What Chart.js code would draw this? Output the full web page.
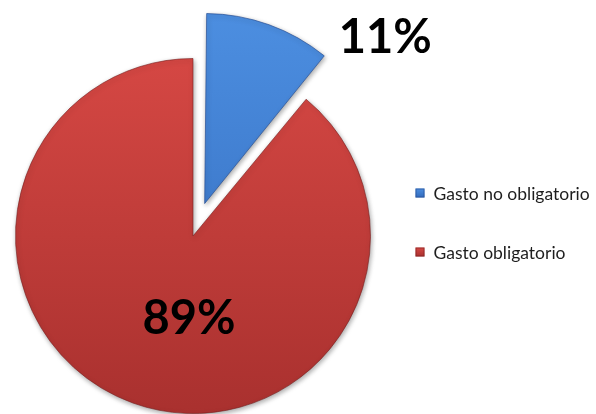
<!DOCTYPE html>
<html>
<head>
<meta charset="utf-8">
<script src="https://cdn.jsdelivr.net/npm/chart.js@4"></script>
<style>
  html, body { margin: 0; padding: 0; width: 596px; height: 414px; overflow: hidden; background: #fff; }
  #wrap { position: absolute; left: -80px; top: -40px; width: 676px; height: 560px; }
</style>
</head>
<body>
<div id="wrap"><canvas id="gastoChart"></canvas></div>
<script>
// Spending split
const categories = ['Gasto no obligatorio', 'Gasto obligatorio'];
const shares = [11, 89];
const sliceOffsets = [138, 0];

// top / bottom shades of each slice
const shadeTop = ['rgb(76,142,224)', 'rgb(214,72,68)'];
const shadeBottom = ['rgb(50,106,188)', 'rgb(168,48,46)'];
const edgeColors = ['rgba(40,80,150,0.7)', 'rgba(120,30,30,0.6)'];

// where each percentage sits: angle clockwise from 12 o'clock, distance in radii
const labelAngles = [48.8, 182.7];
const labelDistances = [1.32, 0.47];

function sliceGradient(context) {
    const chart = context.chart;
    const area = chart.chartArea;
    const i = context.dataIndex;
    if (!area || i === undefined) return shadeTop[i || 0];
    const g = chart.ctx.createLinearGradient(0, area.top + 60, 0, area.bottom - 60);
    g.addColorStop(0, shadeTop[i]);
    g.addColorStop(1, shadeBottom[i]);
    return g;
}

// how far ArcElement.draw pushes a slice out along its middle angle
function arcShift(p, offset) {
    const base = offset / 4;
    const fix = 1 - Math.sin(Math.min(Math.PI, p.endAngle - p.startAngle));
    return base * (1 + fix);
}

// soft drop shadow under the pie
const pieShadow = {
    id: 'pieShadow',
    beforeDatasetsDraw(chart) {
        const ctx = chart.ctx;
        ctx.save();
        ctx.shadowColor = 'rgba(0,0,0,0.35)';
        ctx.shadowBlur = 5;
        ctx.shadowOffsetX = 1;
        ctx.shadowOffsetY = 2;
    },
    afterDatasetsDraw(chart) {
        chart.ctx.restore();
    }
};

// big percentage labels
const percentLabels = {
    id: 'percentLabels',
    afterDraw(chart) {
        const ctx = chart.ctx;
        const meta = chart.getDatasetMeta(0);
        ctx.save();
        ctx.font = 'bold 47px Lato';
        ctx.fillStyle = '#000';
        ctx.textAlign = 'center';
        ctx.textBaseline = 'middle';
        meta.data.forEach((arc, i) => {
            const p = arc.getProps(['x', 'y', 'startAngle', 'endAngle', 'outerRadius']);
            const mid = (p.startAngle + p.endAngle) / 2;
            const off = arcShift(p, sliceOffsets[i]);
            const cx = p.x + Math.cos(mid) * off;
            const cy = p.y + Math.sin(mid) * off;
            const a = (labelAngles[i] - 90) * Math.PI / 180;
            const d = labelDistances[i] * p.outerRadius;
            ctx.fillText(shares[i] + '%', cx + Math.cos(a) * d, cy + Math.sin(a) * d);
        });
        ctx.restore();
    }
};

// legend on the right, beside the pie
const sideLegend = {
    id: 'sideLegend',
    afterDraw(chart) {
        const ctx = chart.ctx;
        const arc = chart.getDatasetMeta(0).data[0];
        const x = arc.x + arc.outerRadius + 45;
        const rows = [arc.y - 43, arc.y + 16];
        ctx.save();
        ctx.font = '17.5px Lato';
        ctx.textBaseline = 'middle';
        categories.forEach((name, i) => {
            const y = rows[i];
            const g = ctx.createLinearGradient(0, y - 4.5, 0, y + 4.5);
            g.addColorStop(0, shadeTop[i]);
            g.addColorStop(1, shadeBottom[i]);
            ctx.fillStyle = g;
            ctx.fillRect(x, y - 4.5, 9, 9);
            ctx.strokeStyle = edgeColors[i];
            ctx.lineWidth = 1;
            ctx.strokeRect(x + 0.5, y - 4, 8, 8);
            ctx.fillStyle = '#1e1e1e';
            ctx.fillText(name, x + 18, y + 1);
        });
        ctx.restore();
    }
};

const ctx = document.getElementById('gastoChart').getContext('2d');
new Chart(ctx, {
    type: 'pie',
    data: {
        labels: categories,
        datasets: [{
            data: shares,
            backgroundColor: sliceGradient,
            borderColor: edgeColors,
            borderWidth: 1,
            offset: sliceOffsets
        }]
    },
    options: {
        responsive: true,
        maintainAspectRatio: false,
        animation: false,
        layout: {
            padding: { left: 26, top: 29, right: 156, bottom: 37 }
        },
        plugins: {
            legend: { display: false },
            tooltip: { enabled: false }
        }
    },
    plugins: [pieShadow, percentLabels, sideLegend]
});
</script>
</body>
</html>
